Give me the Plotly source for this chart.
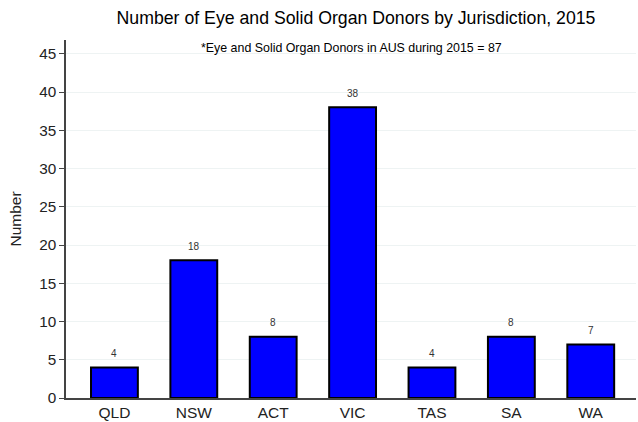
import plotly.graph_objects as go

categories = ["QLD", "NSW", "ACT", "VIC", "TAS", "SA", "WA"]
donors = [4, 18, 8, 38, 4, 8, 7]
y_ticks = [0, 5, 10, 15, 20, 25, 30, 35, 40, 45]

fig = go.Figure()
fig.add_trace(go.Bar(
    x=categories, y=donors,
    marker=dict(color="#0000ff", line=dict(color="black", width=2)),
    width=0.59,
))
for c, v in zip(categories, donors):
    fig.add_annotation(x=c, y=v, text=str(v), showarrow=False, yshift=14,
                       font=dict(size=10, color="#333333"))
fig.add_annotation(x=0.5, xref="paper", y=1.0, yref="paper", yanchor="middle", yshift=-8,
                   text="*Eye and Solid Organ Donors in AUS during 2015 = 87",
                   showarrow=False, font=dict(size=12.4, color="black"))
fig.update_layout(
    width=638, height=422,
    margin=dict(l=66, r=2, t=40, b=24),
    paper_bgcolor="white", plot_bgcolor="white",
    font=dict(family="Liberation Sans, Arial, sans-serif", color="black"),
    title=dict(text="Number of Eye and Solid Organ Donors by Jurisdiction, 2015",
               x=0.558, xanchor="center", y=0.957, yanchor="middle",
               font=dict(size=17.7, color="black")),
    showlegend=False,
    xaxis=dict(range=[-0.61, 6.57], showline=True, linecolor="#444444", linewidth=1.5,
               ticks="", tickfont=dict(size=15.5, color="#222222"), showgrid=False,
               automargin=False),
    yaxis=dict(range=[0, 46.8], tickvals=y_ticks, showline=True, linecolor="#444444",
               linewidth=1.5, ticks="outside", ticklen=5, tickcolor="#444444",
               tickfont=dict(size=15.3, color="#222222"), showgrid=True,
               gridcolor="#eef3f3", gridwidth=1, zeroline=False, automargin=False,
               title=dict(text="Number", font=dict(size=15.5, color="#222222"), standoff=14)),
)
fig.write_html("out.html", config={"displayModeBar": False},
               post_script="document.body.style.margin='0';")
